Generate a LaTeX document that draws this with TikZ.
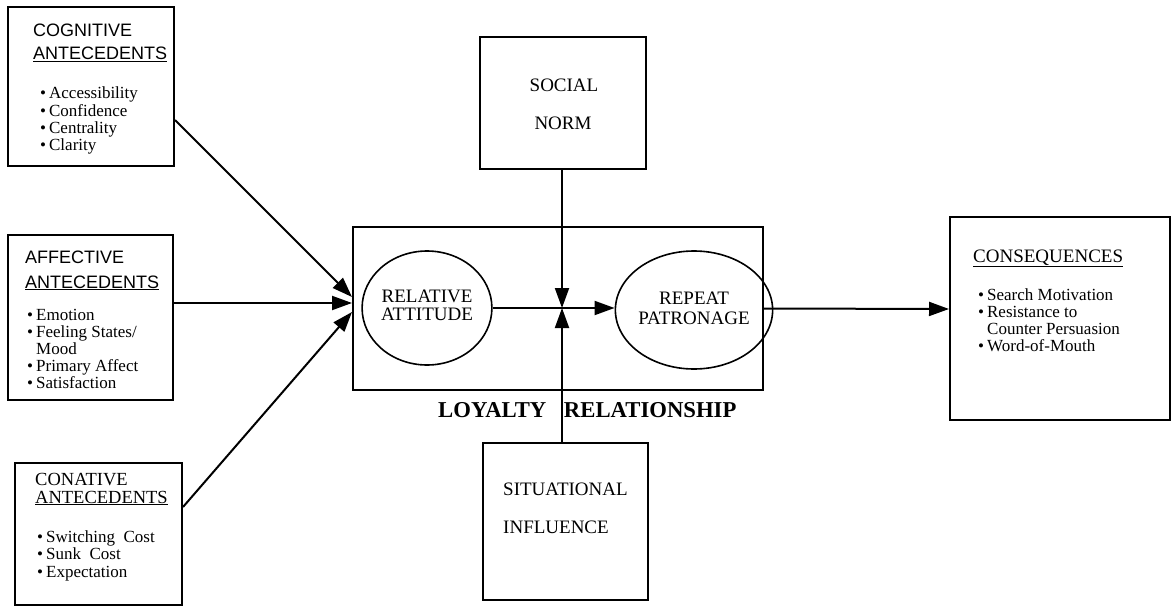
\documentclass[tikz,border=0pt]{standalone}
\usepackage{fontspec}
\setmainfont{Liberation Serif}
\setsansfont{Liberation Sans}
\usetikzlibrary{arrows.meta,shapes.geometric}

\newcommand{\blt}{\textbullet\hspace{3pt}}
\newcommand{\bltgap}{\hphantom{\textbullet\hspace{3pt}}}

\tikzset{
  frame/.style={draw, line width=2pt, rectangle, inner sep=0pt},
  bubble/.style={draw, line width=1.6pt, ellipse, inner sep=0pt,
    minimum width=122pt, minimum height=114pt, font=\fontsize{19}{18}\selectfont},
  link/.style={line width=2pt, -{Triangle[length=20pt,width=14pt]}},
  sanshead/.style={anchor=base west, inner sep=0pt, font=\sffamily\fontsize{18}{18}\selectfont},
  serifhead/.style={anchor=base west, inner sep=0pt, font=\fontsize{18.5}{18.5}\selectfont},
  items/.style={anchor=base west, inner sep=0pt, font=\fontsize{17}{17}\selectfont},
  boxtitle/.style={inner sep=0pt, font=\fontsize{19}{19}\selectfont},
}

\begin{document}
\begin{tikzpicture}[x=1pt, y=-1pt]
  \useasboundingbox (0,0) rectangle (1172,607);

  % antecedent boxes
  \node[frame, minimum width=166pt, minimum height=159pt] (cog) at (91,86.5) {};
  \node[sanshead] (cogh1) at (33,37) {COGNITIVE};
  \node[sanshead] (cogh2) at (33,60) {\underline{ANTECEDENTS}};
  \node[items] (cogl) at (40,99) {\begin{tabular}[t]{@{}l@{}}
    \blt Accessibility\\ \blt Confidence\\ \blt Centrality\\ \blt Clarity\end{tabular}};

  \node[frame, minimum width=165pt, minimum height=165pt] (aff) at (90.5,317.5) {};
  \node[sanshead] (affh1) at (25,263) {AFFECTIVE};
  \node[sanshead] (affh2) at (25,288) {\underline{ANTECEDENTS}};
  \node[items] (affl) at (27,320) {\begin{tabular}[t]{@{}l@{}}
    \blt Emotion\\ \blt Feeling States/\\ \bltgap Mood\\ \blt Primary Affect\\ \blt Satisfaction\end{tabular}};

  \node[frame, minimum width=167pt, minimum height=142pt] (con) at (98.5,534) {};
  \node[serifhead] (conh1) at (35,485) {CONATIVE};
  \node[serifhead] (conh2) at (35,503) {\underline{ANTECEDENTS}};
  \node[items, font=\fontsize{17}{17.5}\selectfont] (conl) at (37,542) {\begin{tabular}[t]{@{}l@{}}
    \blt Switching\hspace{0.5em}Cost\\ \blt Sunk\hspace{0.5em}Cost\\ \blt Expectation\end{tabular}};

  % loyalty relationship
  \node[frame, minimum width=410pt, minimum height=163pt] (loy) at (558,308.5) {};
  \node[bubble] (ra) at (427,308) {\begin{tabular}{@{}c@{}}RELATIVE\\ATTITUDE\end{tabular}};
  \node[bubble, minimum width=124pt, minimum height=118pt, font=\fontsize{19}{20}\selectfont]
    (rp) at (694,310) {\begin{tabular}{@{}c@{}}REPEAT\\PATRONAGE\end{tabular}};
  \node[anchor=base west, inner sep=0pt, font=\bfseries\fontsize{22.7}{22.7}\selectfont]
    (loyt) at (438,417) {LOYALTY\hspace{17.7pt}RELATIONSHIP};
  \coordinate (mid) at (562,308);

  % moderators
  \node[frame, minimum width=166pt, minimum height=132pt] (soc) at (563,103) {};
  \node[boxtitle, anchor=base] (soct1) at (564,92) {SOCIAL};
  \node[boxtitle, anchor=base] (soct2) at (563,130) {NORM};

  \node[frame, minimum width=165pt, minimum height=157pt] (sit) at (565.5,521.5) {};
  \node[boxtitle, anchor=base west] (sitt1) at (503,495) {SITUATIONAL};
  \node[boxtitle, anchor=base west] (sitt2) at (503,533) {INFLUENCE};

  % consequences
  \node[frame, minimum width=220pt, minimum height=203pt] (cons) at (1060,318.5) {};
  \node[anchor=base west, inner sep=0pt, font=\fontsize{19}{19}\selectfont] (consh) at (973,262) {\underline{CONSEQUENCES}};
  \node[items] (consl) at (978,300) {\begin{tabular}[t]{@{}l@{}}
    \blt Search Motivation\\ \blt Resistance to\\ \bltgap Counter Persuasion\\ \blt Word-of-Mouth\end{tabular}};

  % connectors
  \draw[link] ([yshift=-33.5pt]cog.east) -- ([yshift=11.5pt]loy.west);
  \draw[link] ([yshift=14.5pt]aff.east) -- ([yshift=5.5pt]loy.west);
  \draw[link] ([yshift=27pt]con.east) -- ([yshift=-3.5pt]loy.west);
  \draw[link] (ra.east) -- (ra.east -| rp.west);
  \draw[link] (soc.south -| mid) -- (mid);
  \draw[link] (sit.north -| mid) -- (mid);
  \draw[link] (loy.east) -- ([yshift=9.5pt]cons.west);
\end{tikzpicture}
\end{document}
